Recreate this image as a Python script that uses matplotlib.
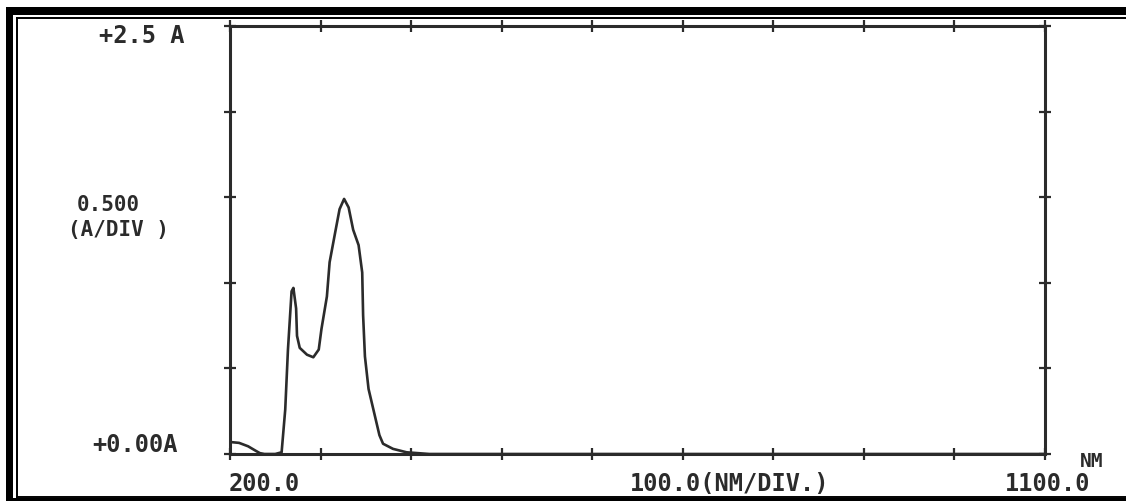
import matplotlib
matplotlib.use("Agg")
import matplotlib.pyplot as plt
from matplotlib.patches import Rectangle
from matplotlib.lines import Line2D

# spectrum (wavelength in nm, absorbance in A)
wavelength = [200, 210, 220, 228, 233, 238, 250, 257, 261, 264, 268, 270, 273, 274, 277,
              285, 292, 298, 301, 307, 310, 316, 321, 326, 331, 336, 342, 346, 347, 349,
              353, 359, 365, 369, 380, 395, 420, 500, 600, 700, 800, 900, 1000, 1100]
absorbance = [0.07, 0.065, 0.045, 0.02, 0.005, 0.0, 0.0, 0.01, 0.26, 0.61, 0.95, 0.97, 0.85, 0.69, 0.62,
              0.58, 0.565, 0.61, 0.73, 0.92, 1.12, 1.29, 1.43, 1.49, 1.44, 1.31, 1.22, 1.06, 0.81, 0.57,
              0.38, 0.245, 0.11, 0.06, 0.03, 0.01, 0.0, 0.0, 0.0, 0.0, 0.0, 0.0, 0.0, 0.0]

x_ticks = [200, 300, 400, 500, 600, 700, 800, 900, 1000, 1100]
y_ticks = [0.0, 0.5, 1.0, 1.5, 2.0, 2.5]

W, H = 1126, 502
ink = "#2b2b2b"
mono = "DejaVu Sans Mono"

fig = plt.figure(figsize=(W / 100, H / 100), dpi=100)
fig.patch.set_facecolor("white")

# axes box in pixel terms
ax = fig.add_axes([230 / W, 47 / H, 815 / W, 428 / H])
ax.plot(wavelength, absorbance, color=ink, lw=1.9, solid_joinstyle="round")
ax.set_xlim(200, 1100)
ax.set_ylim(0, 2.5)
ax.set_xticks(x_ticks)
ax.set_yticks(y_ticks)
ax.tick_params(direction="inout", length=8, width=1.6, color=ink,
               top=True, right=True, labelbottom=False, labelleft=False)
for s in ax.spines.values():
    s.set_linewidth(2.2)
    s.set_color(ink)


def label(s, x, y, size=17):
    fig.text(x / W, 1 - y / H, s, ha="center", va="center", fontsize=size,
             family=mono, fontweight="bold", color=ink)


label("+2.5 A", 142, 36)
label("0.500", 108, 205, size=15)
label("(A/DIV )", 118, 230, size=15)
label("+0.00A", 135, 445)
label("200.0", 264, 484)
label("100.0(NM/DIV.)", 730, 484)
label("1100.0", 1048, 484)
label("NM", 1092, 462, size=14)

# double border of the printout (thick outer, thin inner)
fr = fig.transFigure
fig.add_artist(Rectangle((6 / W, 1 - 16 / H), 1, 8 / H, transform=fr, color="black", lw=0))
fig.add_artist(Rectangle((6 / W, 0), 7 / W, 1 - 8 / H, transform=fr, color="black", lw=0))
fig.add_artist(Rectangle((6 / W, 0), 1, 3 / H, transform=fr, color="black", lw=0))
fig.add_artist(Line2D([16.5 / W, 1], [1 - 19 / H, 1 - 19 / H], transform=fr, color="black", lw=1.4))
fig.add_artist(Line2D([16.5 / W, 16.5 / W], [1 - 19 / H, 1 - 497.5 / H], transform=fr, color="black", lw=1.4))
fig.add_artist(Line2D([16.5 / W, 1], [1 - 497.5 / H, 1 - 497.5 / H], transform=fr, color="black", lw=1.4))

fig.savefig("out.png", dpi=100)
